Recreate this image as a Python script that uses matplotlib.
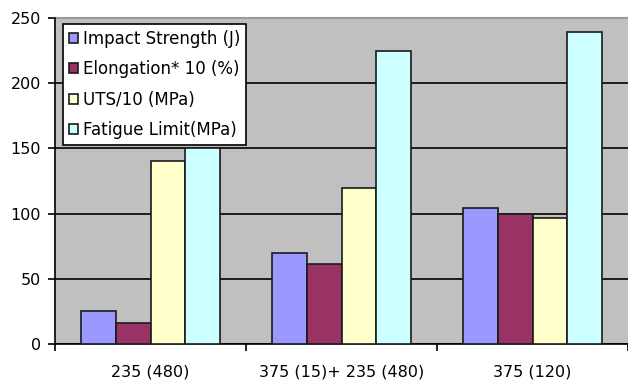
import matplotlib.pyplot as plt
import numpy as np

categories = ["235 (480)", "375 (15)+ 235 (480)", "375 (120)"]
series_names = ["Impact Strength (J)", "Elongation* 10 (%)", "UTS/10 (MPa)", "Fatigue Limit(MPa)"]
impact = [25, 70, 104]
elongation = [16, 61, 100]
uts = [140, 120, 97]
fatigue = [150, 225, 239]
yticks = [0, 50, 100, 150, 200, 250]

colors = ["#9999FF", "#993366", "#FFFFCC", "#CCFFFF"]

plt.rcParams['font.family'] = ['DejaVu Sans']

fig = plt.figure(figsize=(6.28, 3.83), dpi=100)
ax = fig.add_axes([55 / 628, 1 - 344 / 383, 573 / 628, 326 / 383])
ax.set_facecolor("#C0C0C0")

x = np.arange(len(categories))
n = len(series_names)
w = 1 / (n + 1.5)
data = [impact, elongation, uts, fatigue]
for i, (vals, c, name) in enumerate(zip(data, colors, series_names)):
    ax.bar(x + (i - (n - 1) / 2) * w, vals, w, color=c, edgecolor="#1a1a1a",
           linewidth=1.2, label=name, zorder=3)

ax.set_xlim(-0.5, len(categories) - 0.5)
ax.set_ylim(0, 250)
ax.set_yticks(yticks)
ax.yaxis.grid(True, color="black", linewidth=1.2, zorder=1)
ax.set_axisbelow(True)

ax.set_xticks(np.arange(len(categories) + 1) - 0.5)
ax.set_xticklabels([])
ax.set_xticks(x, minor=True)
ax.set_xticklabels(categories, minor=True, fontsize=11.5)
ax.tick_params(axis="x", which="minor", length=0, pad=15)
ax.tick_params(axis="x", which="major", length=5, width=1.2, direction="out")
ax.tick_params(axis="y", length=5, width=1.2, labelsize=11.5, pad=5)

for s in ["top", "right"]:
    ax.spines[s].set_visible(False)
ax.spines["left"].set_linewidth(1.2)
ax.spines["bottom"].set_linewidth(1.2)
ax.axhline(250, color="#999999", linewidth=1.5, zorder=2, clip_on=False)

leg = ax.legend(loc="upper left", bbox_to_anchor=(8 / 573, 1 - 6 / 326),
                frameon=True, fancybox=False, framealpha=1, edgecolor="black",
                fontsize=12, handlelength=0.55, handleheight=0.55,
                handletextpad=0.3, borderpad=0.35, labelspacing=0.75,
                borderaxespad=0)
leg.get_frame().set_linewidth(1.2)

fig.savefig("out.png", dpi=100)
